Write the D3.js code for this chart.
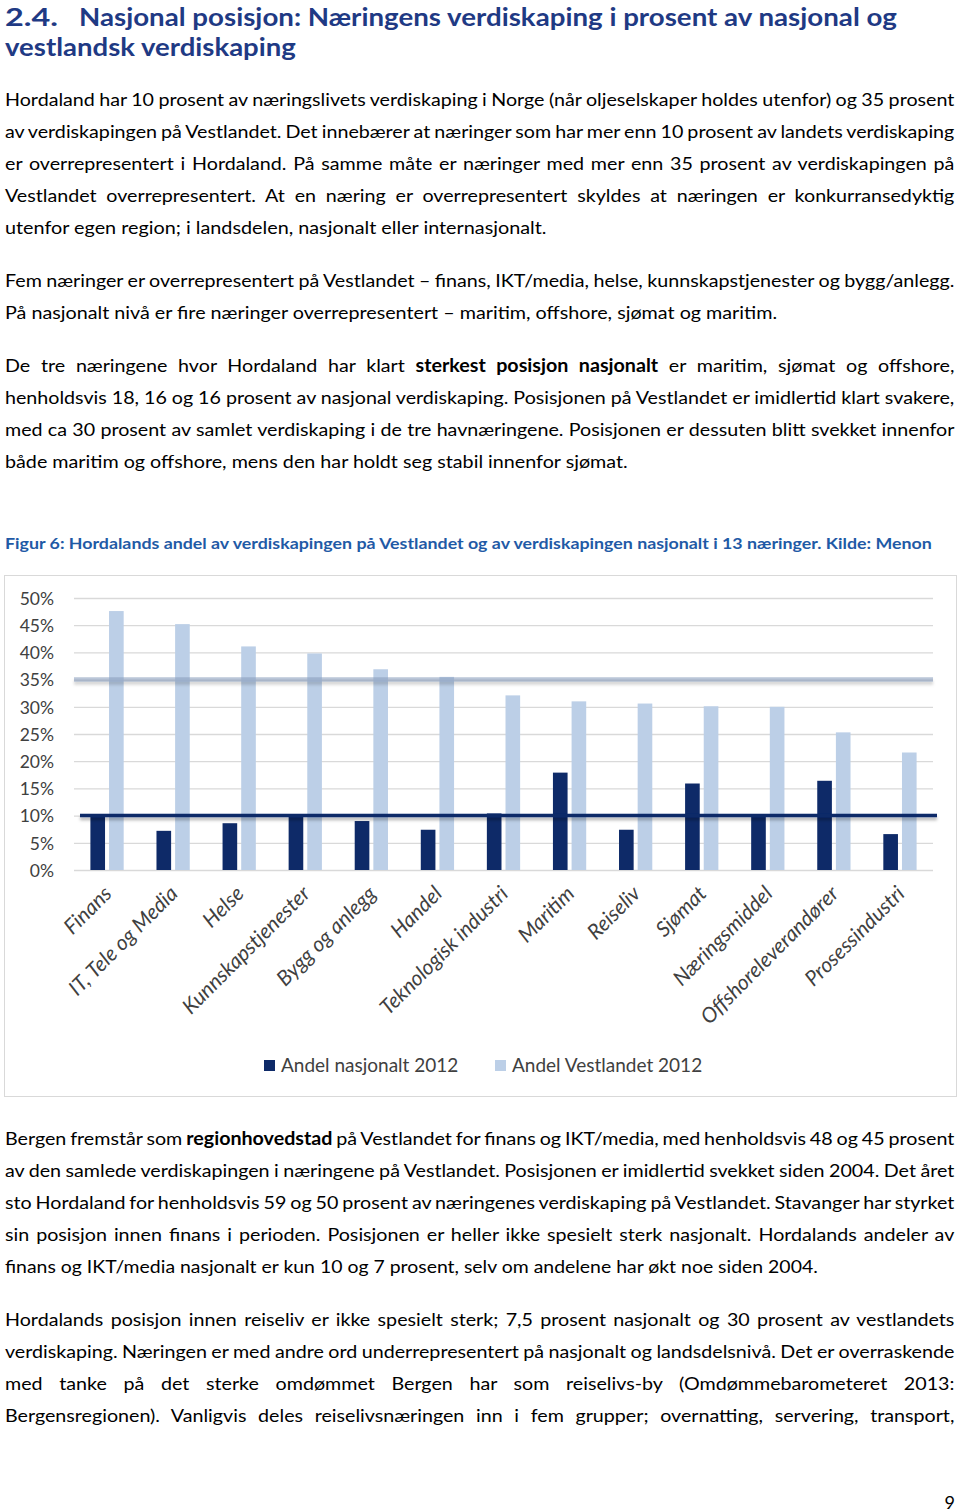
<!DOCTYPE html>
<html><head><meta charset="utf-8">
<script src="https://cdn.jsdelivr.net/npm/d3@7"></script>
<style>body{margin:0;background:#fff} svg{display:block}</style>
</head><body>
<svg id="page" width="960" height="1512"></svg>
<script>
// ---------- chart data ----------
const categories = ["Finans","IT, Tele og Media","Helse","Kunnskapstjenester","Bygg og anlegg","Handel","Teknologisk industri","Maritim","Reiseliv","Sjømat","Næringsmiddel","Offshoreleverandører","Prosessindustri"];
const andelNasjonalt = [10.0,7.2,8.6,9.8,9.0,7.4,10.4,17.9,7.4,15.9,9.8,16.4,6.6];
const andelVestlandet = [47.6,45.2,41.1,39.8,36.9,35.5,32.1,31.0,30.6,30.1,30.0,25.3,21.6];
const yTicks = [0,5,10,15,20,25,30,35,40,45,50];
const seriesNames = ["Andel nasjonalt 2012","Andel Vestlandet 2012"];
const refVestlandet = 35;
const refNasjonalt = 10;

// ---------- page text ----------
const heading = [["2.4.", "Nasjonal posisjon: Næringens verdiskaping i prosent av nasjonal og"], ["", "vestlandsk verdiskaping"]];
const para1 = [
 ["Hordaland har 10 prosent av næringslivets verdiskaping i Norge (når oljeselskaper holdes utenfor) og 35 prosent", 955, true],
 ["av verdiskapingen på Vestlandet. Det innebærer at næringer som har mer enn 10 prosent av landets verdiskaping", 955, true],
 ["er overrepresentert i Hordaland. På samme måte er næringer med mer enn 35 prosent av verdiskapingen på", 955, true],
 ["Vestlandet overrepresentert. At en næring er overrepresentert skyldes at næringen er konkurransedyktig", 955, true],
 ["utenfor egen region; i landsdelen, nasjonalt eller internasjonalt.", 547, false]
];
const para2 = [
 ["Fem næringer er overrepresentert på Vestlandet – finans, IKT/media, helse, kunnskapstjenester og bygg/anlegg.", 955, true],
 ["På nasjonalt nivå er fire næringer overrepresentert – maritim, offshore, sjømat og maritim.", 778, false]
];
const para3 = [
 ["De tre næringene hvor Hordaland har klart **sterkest posisjon nasjonalt** er maritim, sjømat og offshore,", 955, true],
 ["henholdsvis 18, 16 og 16 prosent av nasjonal verdiskaping. Posisjonen på Vestlandet er imidlertid klart svakere,", 955, true],
 ["med ca 30 prosent av samlet verdiskaping i de tre havnæringene. Posisjonen er dessuten blitt svekket innenfor", 955, true],
 ["både maritim og offshore, mens den har holdt seg stabil innenfor sjømat.", 628, false]
];
const caption = "Figur 6: Hordalands andel av verdiskapingen på Vestlandet og av verdiskapingen nasjonalt i 13 næringer. Kilde: Menon";
const para4 = [
 ["Bergen fremstår som **regionhovedstad** på Vestlandet for finans og IKT/media, med henholdsvis 48 og 45 prosent", 955, true],
 ["av den samlede verdiskapingen i næringene på Vestlandet. Posisjonen er imidlertid svekket siden 2004. Det året", 955, true],
 ["sto Hordaland for henholdsvis 59 og 50 prosent av næringenes verdiskaping på Vestlandet. Stavanger har styrket", 955, true],
 ["sin posisjon innen finans i perioden. Posisjonen er heller ikke spesielt sterk nasjonalt. Hordalands andeler av", 955, true],
 ["finans og IKT/media nasjonalt er kun 10 og 7 prosent, selv om andelene har økt noe siden 2004.", 818, false]
];
const para5 = [
 ["Hordalands posisjon innen reiseliv er ikke spesielt sterk; 7,5 prosent nasjonalt og 30 prosent av vestlandets", 955, true],
 ["verdiskaping. Næringen er med andre ord underrepresentert på nasjonalt og landsdelsnivå. Det er overraskende", 955, true],
 ["med tanke på det sterke omdømmet Bergen har som reiselivs-by (Omdømmebarometeret 2013:", 955, true],
 ["Bergensregionen). Vanligvis deles reiselivsnæringen inn i fem grupper; overnatting, servering, transport,", 955, true]
];

const svg = d3.select("#page");
const FONT = "Lato, 'Open Sans', sans-serif";

function makeText(g, str, cfg) {
  const t = g.append("text").attr("x",0).attr("y",0)
    .attr("font-family", FONT).attr("font-size", cfg.size).attr("fill", cfg.fill)
    .attr("font-weight", cfg.weight || "normal").attr("font-style", cfg.style || "normal")
    .style("white-space","pre");
  str.split("**").forEach((seg,i)=>{ if(seg) { const s=t.append("tspan").text(seg); if(i%2) s.attr("font-weight","bold"); } });
  return t;
}

const bodyCfg = {size:18, fill:"#000"};
const probe = svg.append("g");
let ratios = [];
[para1,para2,para3,para4].forEach(p=>p.forEach(l=>{ if(!l[2]) { const t=makeText(probe,l[0],bodyCfg); ratios.push((l[1]-5)/t.node().getComputedTextLength()); }}));
probe.remove();
const SX = d3.mean(ratios);

function drawPara(lines, y0) {
  lines.forEach((l,i)=>{
    const yy = y0 + i*32;
    const g = svg.append("g");
    const t = makeText(g, l[0], bodyCfg);
    const w = t.node().getComputedTextLength();
    const target = l[1]-5;
    let sx = SX;
    if (l[2]) {
      const nSp = (l[0].match(/ /g)||[]).length;
      t.attr("word-spacing", (target/sx - w)/nSp);
    } else sx = target/w;
    g.attr("transform", `translate(5,${yy}) scale(${sx},1)`);
  });
}
function fitText(str, x1, x2, yy, cfg) {
  const g = svg.append("g");
  const t = makeText(g, str, cfg);
  const w = t.node().getComputedTextLength();
  g.attr("transform", `translate(${x1},${yy}) scale(${(x2-x1)/w},1)`);
}

// heading
const hCfg = {size:25.5, fill:"#1f3a84", weight:"bold"};
fitText(heading[0][0], 5, 58, 26, hCfg);
fitText(heading[0][1], 79, 897, 26, hCfg);
fitText(heading[1][1], 5, 296, 56, hCfg);

drawPara(para1, 106);
drawPara(para2, 287);
drawPara(para3, 372);
fitText(caption, 5, 933, 549, {size:16, fill:"#1f5aa6", weight:"bold"});
drawPara(para4, 1145);
drawPara(para5, 1326);
svg.append("text").attr("x",955).attr("y",1509).attr("text-anchor","end")
  .attr("font-family",FONT).attr("font-size",18).attr("fill","#000").text("9");

// ---------- chart ----------
const defs = svg.append("defs");
const f = defs.append("filter").attr("id","sh").attr("filterUnits","userSpaceOnUse")
  .attr("x",0).attr("y",560).attr("width",960).attr("height",350);
f.append("feDropShadow").attr("dx",0).attr("dy",3).attr("stdDeviation",1.6).attr("flood-color","#000").attr("flood-opacity",0.28);

svg.append("rect").attr("x",4.5).attr("y",575.5).attr("width",952).attr("height",521)
  .attr("fill","#fff").attr("stroke","#d9d9d9");

const x = d3.scaleBand().domain(categories).range([74,933]);
const xs = d3.scaleBand().domain(["n","v"]).range([0,x.bandwidth()]).paddingInner(0.215).paddingOuter(0.88);
const y = d3.scaleLinear().domain([0,50]).range([870,598]);

const cg = svg.append("g");
cg.selectAll("line.grid").data(yTicks).join("line").attr("class","grid")
  .attr("x1",74).attr("x2",933).attr("y1",d=>y(d)+0.5).attr("y2",d=>y(d)+0.5)
  .attr("stroke","#d9d9d9").attr("stroke-width",1.3);

const yAxis = d3.axisLeft(y).tickValues(yTicks).tickFormat(d=>d+"%").tickSize(0).tickPadding(0);
const ya = cg.append("g").attr("transform","translate(54,0)").call(yAxis);
ya.select(".domain").remove();
ya.selectAll("text").attr("font-family",FONT).attr("font-size",17.5).attr("fill","#404040").attr("dy","0.36em");

cg.selectAll("rect.v").data(andelVestlandet).join("rect").attr("class","v")
  .attr("x",(d,i)=>x(categories[i])+xs("v")).attr("width",xs.bandwidth())
  .attr("y",d=>y(d)).attr("height",d=>y(0)-y(d)).attr("fill","#bccfe7");
cg.selectAll("rect.n").data(andelNasjonalt).join("rect").attr("class","n")
  .attr("x",(d,i)=>x(categories[i])+xs("n")).attr("width",xs.bandwidth())
  .attr("y",d=>y(d)).attr("height",d=>y(0)-y(d)).attr("fill","#0e2a68");

// reference lines
cg.append("line").attr("x1",74).attr("x2",933).attr("y1",y(refVestlandet)).attr("y2",y(refVestlandet))
  .attr("stroke","#8a9fbe").attr("stroke-opacity",0.58).attr("stroke-width",4.5).attr("filter","url(#sh)");
cg.append("line").attr("x1",80).attr("x2",937).attr("y1",y(refNasjonalt)).attr("y2",y(refNasjonalt))
  .attr("stroke","#0e2a68").attr("stroke-width",3.5).attr("filter","url(#sh)");

// category labels
const xAxis = d3.axisBottom(x).tickSize(0).tickPadding(0);
const xa = cg.append("g").call(xAxis);
xa.select(".domain").remove();
xa.selectAll(".tick").attr("transform", d=>`translate(${x(d)+x.bandwidth()/2+6},895)`);
xa.selectAll("text").attr("y",0).attr("dy",0).attr("text-anchor","end").attr("transform","rotate(-45)")
  .attr("font-family",FONT).attr("font-size",21).attr("font-style","italic").attr("fill","#404040");

// legend
const lg = cg.append("g");
const legendItems = [{name:seriesNames[0], c:"#0e2a68", x:264}, {name:seriesNames[1], c:"#bccfe7", x:495}];
legendItems.forEach(it=>{
  lg.append("rect").attr("x",it.x).attr("y",1060).attr("width",11).attr("height",11).attr("fill",it.c);
  lg.append("text").attr("x",it.x+17).attr("y",1072).attr("font-family",FONT).attr("font-size",19).attr("fill","#404040").text(it.name);
});
</script>
</body></html>
